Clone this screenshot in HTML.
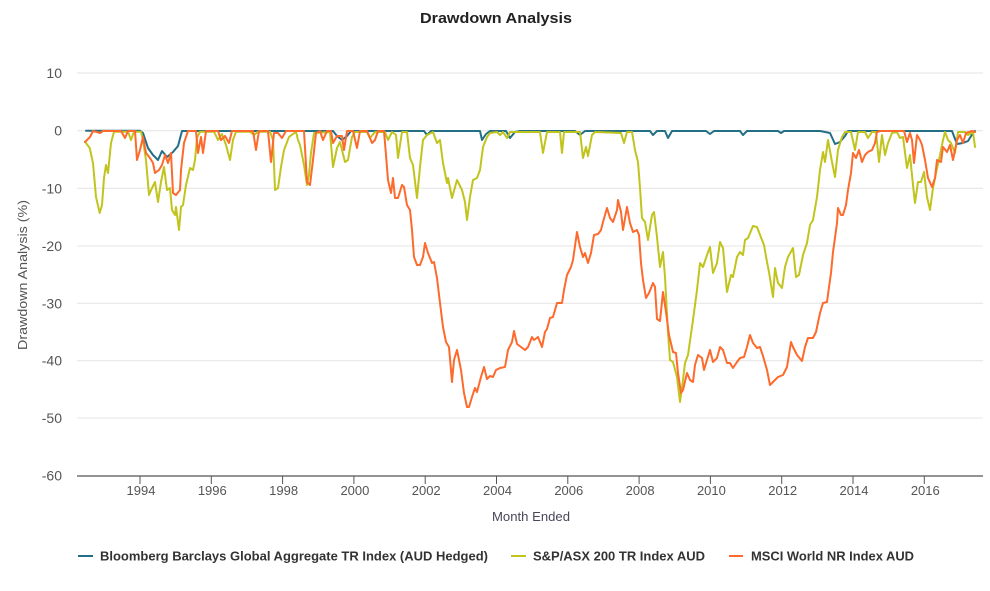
<!DOCTYPE html>
<html><head><meta charset="utf-8"><style>
html,body{margin:0;padding:0;background:#fff;}
svg{display:block;font-family:"Liberation Sans",sans-serif;}
</style></head><body>
<svg width="990" height="591" viewBox="0 0 990 591" xmlns="http://www.w3.org/2000/svg">
<rect width="990" height="591" fill="#fff"/>
<text x="496" y="23" text-anchor="middle" font-size="15" font-weight="bold" fill="#222" textLength="152" lengthAdjust="spacingAndGlyphs">Drawdown Analysis</text>
<g stroke="#e4e4e4" stroke-width="1">
<line x1="77" y1="73" x2="983" y2="73"/>
<line x1="77" y1="130.7" x2="983" y2="130.7"/>
<line x1="77" y1="188.3" x2="983" y2="188.3"/>
<line x1="77" y1="246" x2="983" y2="246"/>
<line x1="77" y1="303.3" x2="983" y2="303.3"/>
<line x1="77" y1="360.7" x2="983" y2="360.7"/>
<line x1="77" y1="418" x2="983" y2="418"/>
</g>
<g font-size="14" fill="#555" text-anchor="end">
<text x="62" y="78">10</text>
<text x="62" y="135.7">0</text>
<text x="62" y="193.3">-10</text>
<text x="62" y="251">-20</text>
<text x="62" y="308.3">-30</text>
<text x="62" y="365.7">-40</text>
<text x="62" y="423">-50</text>
<text x="62" y="480.7">-60</text>
</g>
<text transform="translate(27,275) rotate(-90)" text-anchor="middle" font-size="13" fill="#555" textLength="150" lengthAdjust="spacingAndGlyphs">Drawdown Analysis (%)</text>
<line x1="77" y1="476" x2="983" y2="476" stroke="#555" stroke-width="1.2"/>
<g stroke="#555" stroke-width="1">
<line x1="140" y1="476" x2="140" y2="484"/>
<line x1="211.3" y1="476" x2="211.3" y2="484"/>
<line x1="282.6" y1="476" x2="282.6" y2="484"/>
<line x1="353.9" y1="476" x2="353.9" y2="484"/>
<line x1="425.2" y1="476" x2="425.2" y2="484"/>
<line x1="496.5" y1="476" x2="496.5" y2="484"/>
<line x1="567.8" y1="476" x2="567.8" y2="484"/>
<line x1="639.1" y1="476" x2="639.1" y2="484"/>
<line x1="710.4" y1="476" x2="710.4" y2="484"/>
<line x1="781.7" y1="476" x2="781.7" y2="484"/>
<line x1="853" y1="476" x2="853" y2="484"/>
<line x1="924.3" y1="476" x2="924.3" y2="484"/>
</g>
<g font-size="13" fill="#555" text-anchor="middle">
<text x="141" y="495">1994</text>
<text x="212.3" y="495">1996</text>
<text x="283.6" y="495">1998</text>
<text x="354.9" y="495">2000</text>
<text x="426.2" y="495">2002</text>
<text x="497.5" y="495">2004</text>
<text x="568.8" y="495">2006</text>
<text x="640.1" y="495">2008</text>
<text x="711.4" y="495">2010</text>
<text x="782.7" y="495">2012</text>
<text x="854" y="495">2014</text>
<text x="925.3" y="495">2016</text>
</g>
<text x="531" y="521" text-anchor="middle" font-size="13" fill="#4a4658" textLength="78" lengthAdjust="spacingAndGlyphs">Month Ended</text>

<g fill="none" stroke-width="2" stroke-linejoin="round" stroke-linecap="round">
<polyline stroke="#236f85" points="86,130.7 140,130.7 143,133 148,148 153,155 158,160 162,151 167,157 173,152 178,146 182,131 333,131 337,136 342,140 347,136 351,131 424,131 427,135 431,131 480,131 482,140 486,134 490,131 506,131 510,138 515,132 520,131 575,131 580,135 585,131 650,131 653,135 657,131 665,131 668,138 672,131 706,131 710,134 714,131 740,131 743,135 747,131 778,131 781,133 784,131 820,131 830,133 835,144 840,142 845,136 848,131 952,131 957,144 963,143 968,141 973,133 975,131"/>
<polyline stroke="#c2c41e" points="85,141.7 89.7,148 93,163 96,197 99.7,213 102,205 104,178 106,165 108,173 111,143 114,131.7 128,131.7 131,140 134,131.7 141,131.7 143,140 146,160 149,195 152,188 155,182 158,202 161,182 164,167 167,190 170,188 172,210 175,215 176,207 179,230 181,207 183,205 186,185 190,168 193,170 195,160 197,138 200,131.7 214,131.7 218,140 222,134 226,145 230,160 233,140 236,131.7 250,131.7 254,135 258,131.7 270,131.7 273,140 275,190 278,188 281,167 284,150 289,137 296,131.7 298,140 300,145 304,165 307,185 309,175 311,153 314,133 330,132 333,167 337,148 340,142 345,162 348,160 352,137 355,132 367,132 370,138 375,132 385,132 388,140 392,132 396,135 398,158 402,132 407,132 410,158 413,165 417,198 420,167 423,140 427,135 433,132 437,143 440,140 443,163 447,183 448,178 452,198 457,180 462,190 465,202 467,220 470,197 473,180 477,178 480,170 483,147 487,137 490,133 497,132 500,135 503,132 507,138 510,132 540,132 543,153 547,132 560,132 562,153 564,132 580,132 583,158 586,147 588,156 592,135 595,132 621,133 624,143 627,132 632,132 635,150 638,162 640,188 642,218 645,222 648,240 652,215 654,212 657,237 660,267 663,252 665,277 668,333 670,360 673,362 677,377 680,402 683,380 685,363 688,355 693,320 697,290 700,263 703,267 707,255 710,247 713,273 717,263 720,242 723,248 725,270 727,292 731,275 733,277 737,257 740,252 743,255 745,240 748,238 753,226 757,227 762,240 764,245 767,262 769,272 773,297 775,268 778,283 782,288 785,267 788,257 793,248 796,277 799,275 803,255 807,243 810,225 813,220 817,197 820,170 823,152 825,162 828,140 832,162 835,177 838,150 842,137 845,132 851,132 855,150 858,132 865,132 868,138 872,132 876,132 879,162 882,135 885,155 888,143 892,133 897,132 900,138 903,137 907,168 910,155 913,185 915,203 918,182 921,182 924,172 927,197 930,210 933,188 937,168 939,160 943,140 945,132 948,140 951,143 955,153 958,132 965,132 968,135 973,132 975,147"/>
<polyline stroke="#fd6a2c" points="85,142 90,137 93,131 97,132 100,133 103,131 121,131 125,138 128,131 135,131 137,160 140,150 143,137 146,153 150,158 153,163 155,173 159,170 162,165 165,155 168,163 171,153 173,193 176,195 180,190 181,170 184,143 188,131 196,131 198,153 201,137 203,153 206,131 218,131 221,140 225,136 229,143 232,131 253,131 256,150 259,131 268,131 271,162 274,133 278,133 282,138 286,131 304,131 307,182 310,185 313,160 316,133 320,131 323,140 327,131 331,131 333,143 337,136 342,136 344,150 347,131 353,131 357,148 360,131 367,131 372,143 375,140 378,131 384,131 386,155 388,180 391,193 393,178 395,198 398,198 402,185 404,187 407,205 410,210 412,230 414,257 417,265 420,265 423,257 425,243 428,253 432,263 434,262 437,278 440,303 443,327 446,342 449,347 452,382 454,360 457,350 461,370 464,393 467,407 469,407 472,397 475,388 477,392 481,377 484,367 487,379 490,376 493,377 496,370 500,368 505,367 508,350 512,342 514,331 517,344 521,347 525,350 528,347 532,337 534,340 538,337 542,347 545,332 547,329 550,318 553,317 557,303 562,303 564,290 567,275 571,267 573,260 577,232 580,247 583,257 585,253 588,263 591,253 594,235 598,234 601,230 603,222 607,208 610,218 613,222 617,210 618,200 621,212 623,230 627,207 630,223 633,232 637,230 639,235 641,263 643,280 646,298 649,293 653,283 655,287 657,319 660,321 663,292 666,312 669,335 673,352 676,353 678,373 681,393 683,390 687,373 690,380 693,382 695,365 698,355 702,358 704,370 707,360 710,350 713,362 717,358 720,347 723,350 727,363 730,363 733,368 737,362 740,358 744,357 747,347 750,335 753,343 757,348 760,347 763,356 767,370 770,385 775,380 778,377 783,375 787,367 791,342 793,347 797,355 802,361 805,347 808,338 813,338 816,332 820,313 823,303 827,302 829,287 831,273 833,252 834,245 837,223 838,208 841,215 843,215 846,205 848,190 851,173 853,153 856,158 859,150 862,162 865,155 868,152 872,150 875,143 877,132 880,131 904,131 907,142 910,133 912,140 914,163 917,135 920,140 922,145 925,160 928,178 932,187 935,178 937,160 941,162 943,147 947,152 950,145 953,160 957,140 960,135 963,143 966,133 972,131 975,132"/>
</g>

<g stroke-width="2">
<line x1="78" y1="556" x2="93" y2="556" stroke="#236f85"/>
<line x1="511" y1="556" x2="526" y2="556" stroke="#c2c41e"/>
<line x1="729" y1="556" x2="743" y2="556" stroke="#fd6a2c"/>
</g>
<g font-size="13" font-weight="bold" fill="#333">
<text x="100" y="560.5" textLength="388" lengthAdjust="spacingAndGlyphs">Bloomberg Barclays Global Aggregate TR Index (AUD Hedged)</text>
<text x="533" y="560.5" textLength="172" lengthAdjust="spacingAndGlyphs">S&amp;P/ASX 200 TR Index AUD</text>
<text x="751" y="560.5" textLength="163" lengthAdjust="spacingAndGlyphs">MSCI World NR Index AUD</text>
</g>
</svg>
</body></html>
